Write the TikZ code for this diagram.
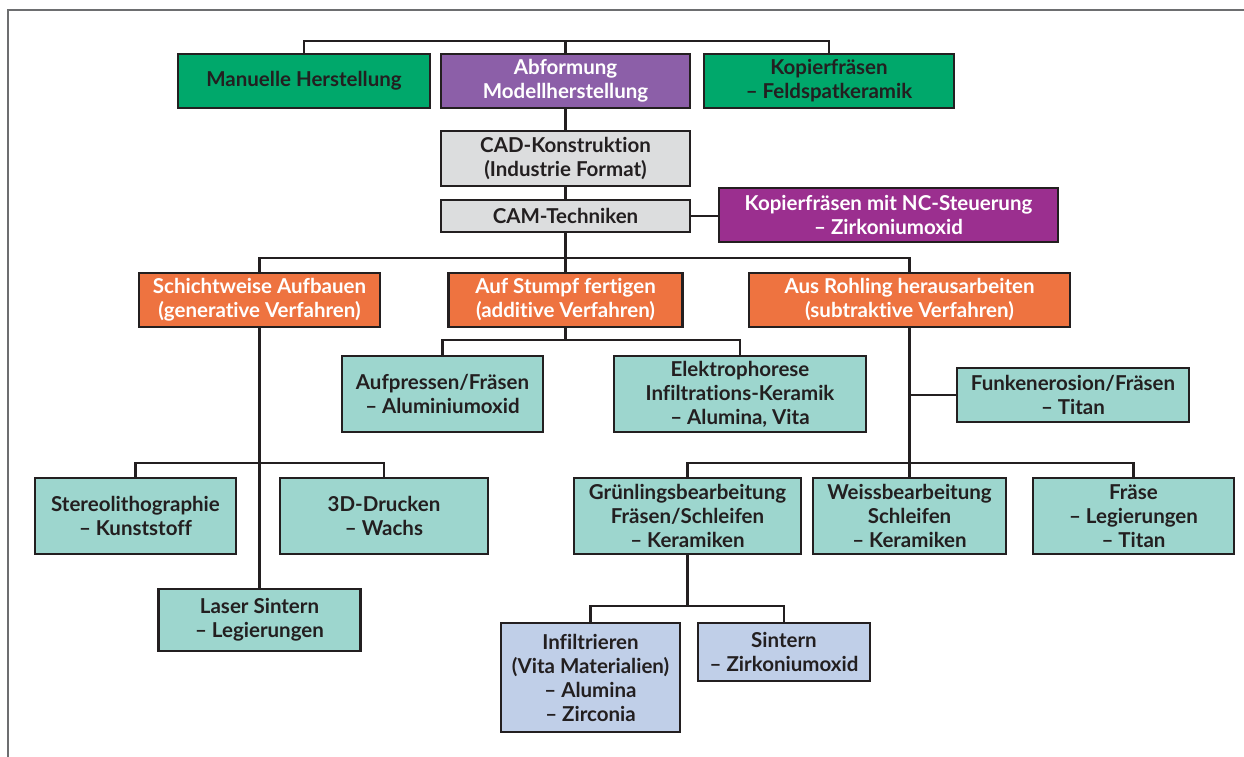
\documentclass[tikz,border=0pt]{standalone}
\usepackage{fontspec}
\setmainfont{Lato}[Ligatures={NoCommon}]
\usepackage{tikz}
\definecolor{linecol}{HTML}{231F20}
\definecolor{framecol}{HTML}{6D6E70}
\definecolor{gruen}{HTML}{00A86B}
\definecolor{lila}{HTML}{8C5FA8}
\definecolor{magenta}{HTML}{9B2F8F}
\definecolor{grau}{HTML}{DCDDDE}
\definecolor{orange}{HTML}{EE7340}
\definecolor{tuerkis}{HTML}{9DD6CE}
\definecolor{blau}{HTML}{C0CFE8}

\begin{document}
\begin{tikzpicture}[x=1pt,y=-1pt,line width=2.8pt,draw=linecol,
  box/.style={draw=linecol,line width=2.8pt,align=center,inner sep=0pt,
    font=\fontsize{20.5}{24}\selectfont\bfseries,text=linecol},
  green box/.style={box,fill=gruen},
  purple box/.style={box,fill=lila,text=white},
  magenta box/.style={box,fill=magenta,text=white},
  grey box/.style={box,fill=grau},
  orange box/.style={box,fill=orange,text=white},
  teal box/.style={box,fill=tuerkis},
  blue box/.style={box,fill=blau}]

  \useasboundingbox (0,0) rectangle (1244,757);
  \draw[framecol,line width=1.5pt] (1244,10) -- (8,10) -- (8,757);

  \node[green box,minimum width=252pt,minimum height=54pt] (manuell) at (304,81) {Manuelle Herstellung};
  \node[purple box,minimum width=249pt,minimum height=54pt] (abform) at (565.5,81) {Abformung\\Modellherstellung};
  \node[green box,minimum width=250pt,minimum height=54pt] (kopier) at (829,81) {Kopierfräsen\\– Feldspatkeramik};
  \node[grey box,minimum width=249pt,minimum height=55pt] (cad) at (565.5,158.5) {CAD-Konstruktion\\(Industrie Format)};
  \node[grey box,minimum width=249pt,minimum height=32pt] (cam) at (565.5,216) {CAM-Techniken};
  \node[magenta box,minimum width=339pt,minimum height=54pt] (nc) at (888.5,215) {Kopierfräsen mit NC-Steuerung\\– Zirkoniumoxid};

  \node[orange box,minimum width=241pt,minimum height=54pt] (schicht) at (259.5,300) {Schichtweise Aufbauen\\(generative Verfahren)};
  \node[orange box,minimum width=234pt,minimum height=54pt] (stumpf) at (565.5,300) {Auf Stumpf fertigen\\(additive Verfahren)};
  \node[orange box,minimum width=321pt,minimum height=54pt] (rohling) at (909.5,300) {Aus Rohling herausarbeiten\\(subtraktive Verfahren)};

  \node[teal box,minimum width=201pt,minimum height=76pt] (aufpress) at (442.5,394) {Aufpressen/Fräsen\\– Aluminiumoxid};
  \node[teal box,minimum width=252pt,minimum height=76pt] (elektro) at (740,394) {Elektrophorese\\Infiltrations-Keramik\\– Alumina, Vita};
  \node[teal box,minimum width=232pt,minimum height=54pt] (funken) at (1073,395) {Funkenerosion/Fräsen\\– Titan};

  \node[teal box,minimum width=201pt,minimum height=76pt] (stereo) at (135.5,516) {Stereolithographie\\– Kunststoff};
  \node[teal box,minimum width=208pt,minimum height=76pt] (druck) at (384,516) {3D-Drucken\\– Wachs};
  \node[teal box,minimum width=202pt,minimum height=62pt] (laser) at (259.5,620) {Laser Sintern\\– Legierungen};

  \node[teal box,minimum width=227pt,minimum height=76pt] (gruenling) at (687.5,516) {Grünlingsbearbeitung\\Fräsen/Schleifen\\– Keramiken};
  \node[teal box,minimum width=193pt,minimum height=76pt] (weiss) at (909.5,516) {Weissbearbeitung\\Schleifen\\– Keramiken};
  \node[teal box,minimum width=201pt,minimum height=76pt] (fraese) at (1133.5,516) {Fräse\\– Legierungen\\– Titan};

  \node[blue box,minimum width=179pt,minimum height=109pt] (infil) at (590.5,677.5) {Infiltrieren\\(Vita Materialien)\\– Alumina\\– Zirconia};
  \node[blue box,minimum width=172pt,minimum height=58pt] (sinter) at (784,652) {Sintern\\– Zirkoniumoxid};

  \coordinate (top) at (565.5,41);
  \coordinate (cambus) at (565.5,258);
  \coordinate (stumpfbus) at (565.5,340);
  \coordinate (schichtbus) at (259.5,463);
  \coordinate (rohlingbus) at (909.5,463);
  \coordinate (gruenbus) at (687.5,606);

  \draw (manuell.north) |- (top) -| (kopier.north);
  \draw (abform.north) -- (top);
  \draw (abform.south) -- (cad.north);
  \draw (cad.south) -- (cam.north);
  \draw (cam.east) -- (cam.east -| nc.west);
  \draw (cam.south) -- (stumpf.north);
  \draw (schicht.north) |- (cambus) -| (rohling.north);
  \draw (stumpf.south) -- (stumpfbus);
  \draw (aufpress.north) |- (stumpfbus) -| (elektro.north);
  \draw (schicht.south) -- (laser.north);
  \draw (stereo.north) |- (schichtbus) -| (druck.north);
  \draw (rohling.south) -- (weiss.north);
  \draw (funken.west) -- (funken.west -| rohling.south);
  \draw (gruenling.north) |- (rohlingbus) -| (fraese.north);
  \draw (gruenling.south) -- (gruenbus);
  \draw (infil.north) |- (gruenbus) -| (sinter.north);
\end{tikzpicture}
\end{document}
